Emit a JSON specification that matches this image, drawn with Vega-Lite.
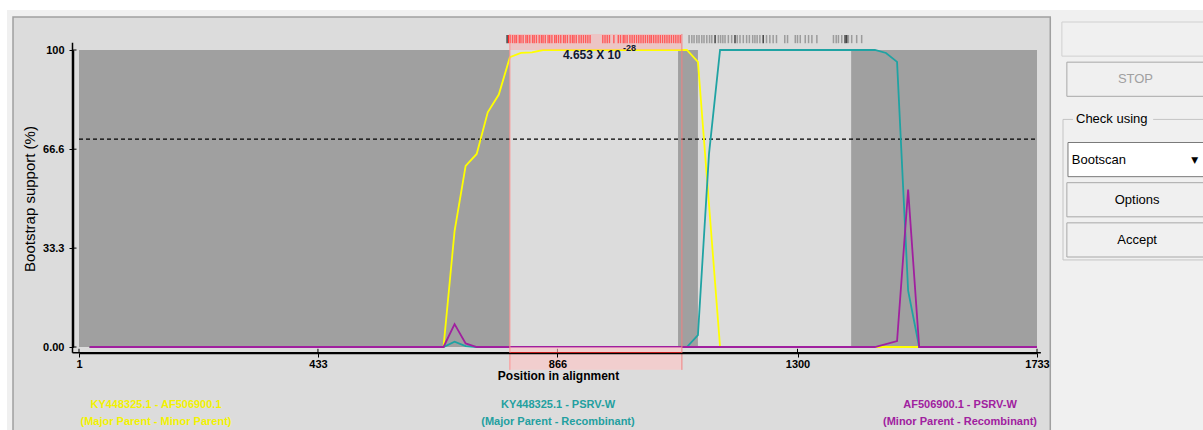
{
  "$schema": "https://vega.github.io/schema/vega-lite/v6.json",
  "width": 958,
  "height": 297,
  "autosize": {"type": "none"},
  "padding": {"left": 79, "top": 50, "right": 166, "bottom": 83},
  "background": "#dcdcdc",
  "config": {"view": {"fill": "#a0a0a0", "stroke": null}, "font": "Liberation Sans"},
  "datasets": {
    "scan": [
      {"pos": 20, "support": 0, "pair": "KY448325.1 - AF506900.1"},
      {"pos": 660, "support": 0, "pair": "KY448325.1 - AF506900.1"},
      {"pos": 680, "support": 39, "pair": "KY448325.1 - AF506900.1"},
      {"pos": 700, "support": 61, "pair": "KY448325.1 - AF506900.1"},
      {"pos": 720, "support": 65, "pair": "KY448325.1 - AF506900.1"},
      {"pos": 740, "support": 79, "pair": "KY448325.1 - AF506900.1"},
      {"pos": 760, "support": 85, "pair": "KY448325.1 - AF506900.1"},
      {"pos": 780, "support": 97.6, "pair": "KY448325.1 - AF506900.1"},
      {"pos": 800, "support": 99, "pair": "KY448325.1 - AF506900.1"},
      {"pos": 820, "support": 99.2, "pair": "KY448325.1 - AF506900.1"},
      {"pos": 840, "support": 100, "pair": "KY448325.1 - AF506900.1"},
      {"pos": 1100, "support": 100, "pair": "KY448325.1 - AF506900.1"},
      {"pos": 1120, "support": 96, "pair": "KY448325.1 - AF506900.1"},
      {"pos": 1160, "support": 0, "pair": "KY448325.1 - AF506900.1"},
      {"pos": 1733, "support": 0, "pair": "KY448325.1 - AF506900.1"},
      {"pos": 20, "support": 0, "pair": "KY448325.1 - PSRV-W"},
      {"pos": 660, "support": 0, "pair": "KY448325.1 - PSRV-W"},
      {"pos": 680, "support": 1.8, "pair": "KY448325.1 - PSRV-W"},
      {"pos": 700, "support": 0.3, "pair": "KY448325.1 - PSRV-W"},
      {"pos": 720, "support": 0, "pair": "KY448325.1 - PSRV-W"},
      {"pos": 1100, "support": 0, "pair": "KY448325.1 - PSRV-W"},
      {"pos": 1120, "support": 4, "pair": "KY448325.1 - PSRV-W"},
      {"pos": 1140, "support": 65, "pair": "KY448325.1 - PSRV-W"},
      {"pos": 1160, "support": 100, "pair": "KY448325.1 - PSRV-W"},
      {"pos": 1440, "support": 100, "pair": "KY448325.1 - PSRV-W"},
      {"pos": 1460, "support": 99, "pair": "KY448325.1 - PSRV-W"},
      {"pos": 1480, "support": 96, "pair": "KY448325.1 - PSRV-W"},
      {"pos": 1500, "support": 19, "pair": "KY448325.1 - PSRV-W"},
      {"pos": 1520, "support": 0, "pair": "KY448325.1 - PSRV-W"},
      {"pos": 1733, "support": 0, "pair": "KY448325.1 - PSRV-W"},
      {"pos": 20, "support": 0, "pair": "AF506900.1 - PSRV-W"},
      {"pos": 660, "support": 0, "pair": "AF506900.1 - PSRV-W"},
      {"pos": 680, "support": 7.7, "pair": "AF506900.1 - PSRV-W"},
      {"pos": 700, "support": 1.2, "pair": "AF506900.1 - PSRV-W"},
      {"pos": 720, "support": 0, "pair": "AF506900.1 - PSRV-W"},
      {"pos": 1440, "support": 0, "pair": "AF506900.1 - PSRV-W"},
      {"pos": 1480, "support": 2, "pair": "AF506900.1 - PSRV-W"},
      {"pos": 1500, "support": 53, "pair": "AF506900.1 - PSRV-W"},
      {"pos": 1520, "support": 0, "pair": "AF506900.1 - PSRV-W"},
      {"pos": 1733, "support": 0, "pair": "AF506900.1 - PSRV-W"}
    ],
    "regions": [
      {"start": 780, "end": 1084},
      {"start": 1120, "end": 1397}
    ],
    "recomb": [
      {"start": 780, "end": 1091, "mantissa": "4.653 X 10", "exponent": "-28"}
    ],
    "xticks": [{"v": 1}, {"v": 433}, {"v": 866}, {"v": 1300}, {"v": 1733}],
    "yticks": [{"v": 0}, {"v": 33.3}, {"v": 66.6}, {"v": 100}],
    "sites": [
      {"pos": 775, "kind": "dark"},
      {"pos": 778, "kind": "red"}, {"pos": 781, "kind": "red"}, {"pos": 785, "kind": "red"}, {"pos": 789, "kind": "red"},
      {"pos": 792, "kind": "red"}, {"pos": 797, "kind": "red"}, {"pos": 800, "kind": "red"}, {"pos": 804, "kind": "red"},
      {"pos": 809, "kind": "red"}, {"pos": 812, "kind": "red"}, {"pos": 816, "kind": "red"}, {"pos": 821, "kind": "red"},
      {"pos": 824, "kind": "red"}, {"pos": 828, "kind": "red"}, {"pos": 833, "kind": "red"}, {"pos": 837, "kind": "red"},
      {"pos": 840, "kind": "red"}, {"pos": 844, "kind": "red"}, {"pos": 849, "kind": "red"}, {"pos": 852, "kind": "red"},
      {"pos": 856, "kind": "red"}, {"pos": 861, "kind": "red"}, {"pos": 864, "kind": "red"}, {"pos": 868, "kind": "red"},
      {"pos": 872, "kind": "red"}, {"pos": 877, "kind": "red"}, {"pos": 880, "kind": "red"}, {"pos": 884, "kind": "red"},
      {"pos": 889, "kind": "red"}, {"pos": 893, "kind": "red"}, {"pos": 896, "kind": "red"}, {"pos": 900, "kind": "red"},
      {"pos": 905, "kind": "red"}, {"pos": 909, "kind": "red"}, {"pos": 913, "kind": "red"}, {"pos": 917, "kind": "red"},
      {"pos": 921, "kind": "red"}, {"pos": 925, "kind": "red"}, {"pos": 948, "kind": "red"}, {"pos": 952, "kind": "red"},
      {"pos": 956, "kind": "red"}, {"pos": 960, "kind": "red"}, {"pos": 968, "kind": "red"}, {"pos": 976, "kind": "red"},
      {"pos": 980, "kind": "red"}, {"pos": 985, "kind": "red"}, {"pos": 988, "kind": "red"}, {"pos": 992, "kind": "red"},
      {"pos": 997, "kind": "red"}, {"pos": 1001, "kind": "red"}, {"pos": 1005, "kind": "red"}, {"pos": 1009, "kind": "red"},
      {"pos": 1013, "kind": "red"}, {"pos": 1017, "kind": "red"}, {"pos": 1021, "kind": "red"}, {"pos": 1025, "kind": "red"},
      {"pos": 1029, "kind": "red"}, {"pos": 1033, "kind": "red"}, {"pos": 1036, "kind": "red"}, {"pos": 1040, "kind": "red"},
      {"pos": 1044, "kind": "red"}, {"pos": 1048, "kind": "red"}, {"pos": 1052, "kind": "red"}, {"pos": 1056, "kind": "red"},
      {"pos": 1060, "kind": "red"}, {"pos": 1064, "kind": "red"}, {"pos": 1068, "kind": "red"}, {"pos": 1072, "kind": "red"},
      {"pos": 1076, "kind": "red"}, {"pos": 1080, "kind": "red"}, {"pos": 1084, "kind": "red"}, {"pos": 1088, "kind": "red"},
      {"pos": 1104, "kind": "gray"}, {"pos": 1109, "kind": "gray"}, {"pos": 1113, "kind": "gray"}, {"pos": 1118, "kind": "gray"},
      {"pos": 1122, "kind": "gray"}, {"pos": 1127, "kind": "gray"}, {"pos": 1131, "kind": "gray"}, {"pos": 1136, "kind": "gray"},
      {"pos": 1141, "kind": "gray"}, {"pos": 1145, "kind": "gray"}, {"pos": 1151, "kind": "dark"}, {"pos": 1157, "kind": "gray"},
      {"pos": 1161, "kind": "gray"}, {"pos": 1165, "kind": "gray"}, {"pos": 1169, "kind": "gray"}, {"pos": 1175, "kind": "gray"},
      {"pos": 1181, "kind": "gray"}, {"pos": 1187, "kind": "dark"}, {"pos": 1191, "kind": "gray"}, {"pos": 1196, "kind": "gray"},
      {"pos": 1202, "kind": "gray"}, {"pos": 1208, "kind": "gray"}, {"pos": 1213, "kind": "gray"}, {"pos": 1219, "kind": "gray"},
      {"pos": 1223, "kind": "gray"}, {"pos": 1227, "kind": "gray"}, {"pos": 1232, "kind": "gray"}, {"pos": 1238, "kind": "dark"},
      {"pos": 1244, "kind": "gray"}, {"pos": 1250, "kind": "gray"}, {"pos": 1256, "kind": "gray"}, {"pos": 1262, "kind": "gray"},
      {"pos": 1277, "kind": "gray"}, {"pos": 1282, "kind": "gray"}, {"pos": 1296, "kind": "gray"}, {"pos": 1300, "kind": "gray"},
      {"pos": 1305, "kind": "gray"}, {"pos": 1314, "kind": "gray"}, {"pos": 1320, "kind": "gray"}, {"pos": 1326, "kind": "gray"},
      {"pos": 1335, "kind": "gray"}, {"pos": 1365, "kind": "gray"}, {"pos": 1370, "kind": "gray"}, {"pos": 1374, "kind": "gray"},
      {"pos": 1380, "kind": "gray"}, {"pos": 1386, "kind": "dark"}, {"pos": 1389, "kind": "dark"}, {"pos": 1392, "kind": "gray"},
      {"pos": 1398, "kind": "gray"}, {"pos": 1407, "kind": "gray"}, {"pos": 1416, "kind": "gray"}
    ],
    "pairs": [
      {"pair": "KY448325.1 - AF506900.1", "role": "(Major Parent - Minor Parent)"},
      {"pair": "KY448325.1 - PSRV-W", "role": "(Major Parent - Recombinant)"},
      {"pair": "AF506900.1 - PSRV-W", "role": "(Minor Parent - Recombinant)"}
    ],
    "widgets": [
      {"widget": "blank", "label": ""},
      {"widget": "STOP", "label": "STOP"},
      {"widget": "Check using", "label": "Check using"},
      {"widget": "Bootscan", "label": "Bootscan"},
      {"widget": "Options", "label": "Options"},
      {"widget": "Accept", "label": "Accept"}
    ],
    "one": [{}]
  },
  "resolve": {"scale": {"x": "independent", "y": "independent", "color": "independent"}},
  "layer": [
    {
      "layer": [
        {
          "data": {"name": "regions"},
          "mark": {"type": "rect", "fill": "#dcdcdc"},
          "encoding": {
            "x": {
              "field": "start", "type": "quantitative",
              "scale": {"domain": [1, 1733], "nice": false, "zero": false},
              "axis": {
                "values": [1, 433, 866, 1300, 1733], "format": "d", "title": "Position in alignment",
                "offset": 6, "tickSize": 4, "labelPadding": 1, "grid": false, "domain": true, "ticks": true,
                "labelFlush": false, "labelOverlap": false, "zindex": 1,
                "labelFont": "Liberation Sans", "labelFontWeight": "bold", "labelFontSize": 11, "labelColor": "#000000",
                "domainColor": "#000000", "domainWidth": 1.5, "tickColor": "#000000", "tickWidth": 1,
                "titleFont": "Liberation Sans", "titleFontSize": 12, "titleFontWeight": "bold", "titleColor": "#000000", "titlePadding": 1
              }
            },
            "x2": {"field": "end"},
            "y": {
              "datum": 0, "type": "quantitative",
              "scale": {"domain": [0, 100], "nice": false, "zero": false},
              "axis": {
                "values": [0, 33.3, 66.6, 100], "title": "Bootstrap support (%)",
                "labelExpr": "datum.value == 0 ? '0.00' : datum.value == 100 ? '100' : format(datum.value, '.1f')",
                "offset": 6, "tickSize": 4, "labelPadding": 5, "grid": false, "domain": true, "ticks": true,
                "labelFlush": false, "labelOverlap": false, "zindex": 1,
                "labelFont": "Liberation Sans", "labelFontWeight": "bold", "labelFontSize": 11, "labelColor": "#000000",
                "domainColor": "#000000", "domainWidth": 1.5, "tickColor": "#000000", "tickWidth": 1,
                "titleFont": "Liberation Sans", "titleFontSize": 15, "titleFontWeight": "normal", "titleColor": "#000000", "titlePadding": 5
              }
            },
            "y2": {"datum": 100}
          }
        },
        {
          "data": {"name": "one"},
          "mark": {"type": "rect", "fill": "#ffffff"},
          "encoding": {"x": {"datum": -200, "type": "quantitative"}, "x2": {"datum": 2100}, "y": {"datum": 125, "type": "quantitative"}, "y2": {"datum": 113.5}}
        },
        {
          "data": {"name": "one"},
          "mark": {"type": "rect", "fill": "#f0f0f0"},
          "encoding": {"x": {"datum": -200, "type": "quantitative"}, "x2": {"datum": 2100}, "y": {"datum": 113.5, "type": "quantitative"}, "y2": {"datum": 111.1}}
        },
        {
          "data": {"name": "one"},
          "mark": {"type": "rect", "fill": "#f0f0f0"},
          "encoding": {"x": {"datum": -200, "type": "quantitative"}, "x2": {"datum": -118.3}, "y": {"datum": 113.5, "type": "quantitative"}, "y2": {"datum": -40}}
        },
        {
          "data": {"name": "one"},
          "mark": {"type": "rect", "fill": "#ffffff"},
          "encoding": {"x": {"datum": -200, "type": "quantitative"}, "x2": {"datum": -129.2}, "y": {"datum": 113.5, "type": "quantitative"}, "y2": {"datum": -40}}
        },
        {
          "data": {"name": "one"},
          "mark": {"type": "rect", "fill": "#f0f0f0"},
          "encoding": {"x": {"datum": 1758.4, "type": "quantitative"}, "x2": {"datum": 2100}, "y": {"datum": 113.5, "type": "quantitative"}, "y2": {"datum": -40}}
        },
        {
          "data": {"name": "one"},
          "mark": {"type": "rect", "fill": "transparent", "stroke": "#a0a0a0", "strokeWidth": 1.5},
          "encoding": {"x": {"datum": -118.3, "type": "quantitative"}, "x2": {"datum": 1757}, "y": {"datum": 111.1, "type": "quantitative"}, "y2": {"datum": -40}}
        },
        {
          "data": {"name": "one"},
          "mark": {"type": "rule", "color": "#000000", "strokeDash": [4, 3], "strokeWidth": 1.3},
          "encoding": {"x": {"datum": 1, "type": "quantitative"}, "x2": {"datum": 1733}, "y": {"datum": 70, "type": "quantitative"}}
        },
        {
          "data": {"name": "sites"},
          "transform": [{"filter": "datum.kind == 'gray'"}],
          "mark": {"type": "rule", "color": "#8c8c8c", "strokeWidth": 1.5, "opacity": 0.8},
          "encoding": {"x": {"field": "pos", "type": "quantitative"}, "y": {"datum": 102.3, "type": "quantitative"}, "y2": {"datum": 105.05}}
        },
        {
          "data": {"name": "sites"},
          "transform": [{"filter": "datum.kind == 'dark'"}],
          "mark": {"type": "rule", "color": "#444444", "strokeWidth": 1.5},
          "encoding": {"x": {"field": "pos", "type": "quantitative"}, "y": {"datum": 102.3, "type": "quantitative"}, "y2": {"datum": 105.05}}
        },
        {
          "data": {"name": "sites"},
          "transform": [{"filter": "datum.kind == 'red'"}],
          "mark": {"type": "rule", "color": "#ff1a1a", "strokeWidth": 1.4},
          "encoding": {"x": {"field": "pos", "type": "quantitative"}, "y": {"datum": 102.3, "type": "quantitative"}, "y2": {"datum": 105.05}}
        },
        {
          "data": {"name": "scan"},
          "mark": {"type": "line", "strokeWidth": 1.8, "clip": false},
          "encoding": {
            "x": {"field": "pos", "type": "quantitative"},
            "y": {"field": "support", "type": "quantitative"},
            "color": {
              "field": "pair", "type": "nominal", "legend": null,
              "scale": {"domain": ["KY448325.1 - AF506900.1", "KY448325.1 - PSRV-W", "AF506900.1 - PSRV-W"], "range": ["#ffff00", "#1fa3a3", "#a0209f"]}
            }
          }
        },
        {
          "data": {"name": "one"},
          "mark": {"type": "rule", "color": "#000000", "strokeWidth": 1.5},
          "encoding": {"x": {"datum": -10.75, "type": "quantitative"}, "x2": {"datum": 1740}, "y": {"datum": -1.92, "type": "quantitative"}}
        },
        {
          "data": {"name": "one"},
          "mark": {"type": "rule", "color": "#000000", "strokeWidth": 1.5},
          "encoding": {"x": {"datum": -10.75, "type": "quantitative"}, "y": {"datum": 102.4, "type": "quantitative"}, "y2": {"datum": -1.92}}
        },
        {
          "data": {"name": "xticks"},
          "mark": {"type": "rule", "color": "#000000", "strokeWidth": 1},
          "encoding": {"x": {"field": "v", "type": "quantitative"}, "y": {"datum": -1.92, "type": "quantitative"}, "y2": {"datum": -0.6}}
        },
        {
          "data": {"name": "yticks"},
          "mark": {"type": "rule", "color": "#000000", "strokeWidth": 1},
          "encoding": {"y": {"field": "v", "type": "quantitative"}, "x": {"datum": -10.75, "type": "quantitative"}, "x2": {"datum": -3.5}}
        },
        {
          "data": {"name": "recomb"},
          "mark": {"type": "rect", "fill": "#ffa8a8", "opacity": 0.45},
          "encoding": {"x": {"field": "start", "type": "quantitative"}, "x2": {"field": "end"}, "y": {"datum": 100, "type": "quantitative"}, "y2": {"datum": 105.4}}
        },
        {
          "data": {"name": "recomb"},
          "mark": {"type": "rect", "fill": "#ffc4c4", "opacity": 0.6},
          "encoding": {"x": {"field": "start", "type": "quantitative"}, "x2": {"field": "end"}, "y": {"datum": 0, "type": "quantitative"}, "y2": {"datum": -7.7}}
        },
        {
          "data": {"name": "recomb"},
          "mark": {"type": "rule", "color": "#ff2020", "strokeWidth": 1.5},
          "encoding": {"x": {"field": "start", "type": "quantitative"}, "x2": {"field": "end"}, "y": {"datum": -1.92, "type": "quantitative"}}
        },
        {
          "data": {"name": "recomb"},
          "mark": {"type": "rule", "color": "#ff9090", "strokeWidth": 1},
          "encoding": {"x": {"field": "start", "type": "quantitative"}, "y": {"datum": -7.7, "type": "quantitative"}, "y2": {"datum": 105.4}}
        },
        {
          "data": {"name": "recomb"},
          "mark": {"type": "rule", "color": "#f08080", "strokeWidth": 1},
          "encoding": {"x": {"field": "end", "type": "quantitative"}, "y": {"datum": -7.7, "type": "quantitative"}, "y2": {"datum": 105.4}}
        },
        {
          "data": {"name": "recomb"},
          "mark": {"type": "text", "align": "left", "baseline": "middle", "dx": 53, "font": "Liberation Sans", "fontWeight": "bold", "fontSize": 12, "color": "#101830"},
          "encoding": {"x": {"field": "start", "type": "quantitative"}, "y": {"datum": 98.3, "type": "quantitative"}, "text": {"field": "mantissa"}}
        },
        {
          "data": {"name": "recomb"},
          "mark": {"type": "text", "align": "left", "baseline": "middle", "dx": 113, "font": "Liberation Sans", "fontWeight": "bold", "fontSize": 9, "color": "#101830"},
          "encoding": {"x": {"field": "start", "type": "quantitative"}, "y": {"datum": 100.7, "type": "quantitative"}, "text": {"field": "exponent"}}
        }
      ]
    },
    {
      "data": {"name": "pairs"},
      "layer": [
        {
          "mark": {"type": "text", "font": "Liberation Sans", "fontWeight": "bold", "fontSize": 11, "baseline": "middle"},
          "encoding": {
            "x": {"field": "pair", "type": "nominal", "axis": null, "sort": null,
                  "scale": {"type": "point", "domain": ["KY448325.1 - AF506900.1", "KY448325.1 - PSRV-W", "AF506900.1 - PSRV-W"], "padding": 0.1915}},
            "y": {"datum": -19.5, "type": "quantitative", "axis": null, "scale": {"domain": [0, 100], "nice": false, "zero": false}},
            "text": {"field": "pair"},
            "color": {"field": "pair", "type": "nominal", "legend": null,
                      "scale": {"domain": ["KY448325.1 - AF506900.1", "KY448325.1 - PSRV-W", "AF506900.1 - PSRV-W"], "range": ["#f2f200", "#23a0a0", "#a0219f"]}}
          }
        },
        {
          "mark": {"type": "text", "font": "Liberation Sans", "fontWeight": "bold", "fontSize": 11, "baseline": "middle"},
          "encoding": {
            "x": {"field": "pair", "type": "nominal"},
            "y": {"datum": -25.3, "type": "quantitative"},
            "text": {"field": "role"},
            "color": {"field": "pair", "type": "nominal", "legend": null}
          }
        }
      ]
    },
    {
      "data": {"name": "widgets"},
      "layer": [
        {
          "transform": [{"filter": "datum.widget == 'Check using'"}],
          "mark": {"type": "rect", "fill": "transparent", "stroke": "#c4c4c4", "strokeWidth": 1, "y2Offset": 20},
          "encoding": {
            "x": {"datum": 1780, "type": "quantitative", "axis": null, "scale": {"domain": [1, 1733], "nice": false, "zero": false}},
            "x2": {"datum": 2060},
            "y": {"field": "widget", "type": "nominal", "axis": null, "bandPosition": 0.5,
                  "scale": {"type": "band", "domain": ["blank", "STOP", "Check using", "Bootscan", "Options", "Accept"], "range": [-28, 207], "paddingInner": 0.15, "paddingOuter": 0}},
            "y2": {"datum": "Accept"}
          }
        },
        {
          "transform": [{"filter": "datum.widget == 'Check using'"}],
          "mark": {"type": "rect", "fill": "#f0f0f0"},
          "encoding": {"x": {"datum": 1798, "type": "quantitative"}, "x2": {"datum": 1943}, "y": {"field": "widget", "type": "nominal"}}
        },
        {
          "transform": [{"filter": "datum.widget == 'blank'"}],
          "mark": {"type": "rect", "fill": "#f0f0f0", "stroke": "#d0d0d0", "strokeWidth": 1},
          "encoding": {"x": {"datum": 1778, "type": "quantitative"}, "x2": {"datum": 2046}, "y": {"field": "widget", "type": "nominal"}}
        },
        {
          "transform": [{"filter": "datum.widget == 'STOP' || datum.widget == 'Options' || datum.widget == 'Accept'"}],
          "mark": {"type": "rect", "fill": "#f0f0f0", "stroke": "#a8a8a8", "strokeWidth": 1},
          "encoding": {"x": {"datum": 1787, "type": "quantitative"}, "x2": {"datum": 2046}, "y": {"field": "widget", "type": "nominal"}}
        },
        {
          "transform": [{"filter": "datum.widget == 'Bootscan'"}],
          "mark": {"type": "rect", "fill": "#ffffff", "stroke": "#7a7a7a", "strokeWidth": 1},
          "encoding": {"x": {"datum": 1789, "type": "quantitative"}, "x2": {"datum": 2046}, "y": {"field": "widget", "type": "nominal"}}
        },
        {
          "transform": [{"filter": "datum.widget == 'Bootscan'"}],
          "mark": {"type": "text", "text": "▼", "font": "DejaVu Sans", "fontSize": 9, "color": "#000000", "baseline": "middle"},
          "encoding": {"x": {"datum": 2018, "type": "quantitative"}, "y": {"field": "widget", "type": "nominal", "bandPosition": 0.5}}
        },
        {
          "transform": [{"filter": "datum.widget == 'STOP'"}],
          "mark": {"type": "text", "font": "Liberation Sans", "fontSize": 13, "color": "#a0a0a0", "baseline": "middle", "align": "center"},
          "encoding": {"x": {"datum": 1911, "type": "quantitative"}, "y": {"field": "widget", "type": "nominal", "bandPosition": 0.5}, "text": {"field": "label"}}
        },
        {
          "transform": [{"filter": "datum.widget == 'Options' || datum.widget == 'Accept'"}],
          "mark": {"type": "text", "font": "Liberation Sans", "fontSize": 13, "color": "#000000", "baseline": "middle", "align": "center"},
          "encoding": {"x": {"datum": 1914, "type": "quantitative"}, "y": {"field": "widget", "type": "nominal", "bandPosition": 0.5}, "text": {"field": "label"}}
        },
        {
          "transform": [{"filter": "datum.widget == 'Check using'"}],
          "mark": {"type": "text", "font": "Liberation Sans", "fontSize": 13, "color": "#000000", "baseline": "middle", "align": "left"},
          "encoding": {"x": {"datum": 1803.5, "type": "quantitative"}, "y": {"field": "widget", "type": "nominal", "bandPosition": 0.5}, "text": {"field": "label"}}
        },
        {
          "transform": [{"filter": "datum.widget == 'Bootscan'"}],
          "mark": {"type": "text", "font": "Liberation Sans", "fontSize": 13, "color": "#000000", "baseline": "middle", "align": "left"},
          "encoding": {"x": {"datum": 1796, "type": "quantitative"}, "y": {"field": "widget", "type": "nominal", "bandPosition": 0.5}, "text": {"field": "label"}}
        }
      ]
    }
  ]
}
